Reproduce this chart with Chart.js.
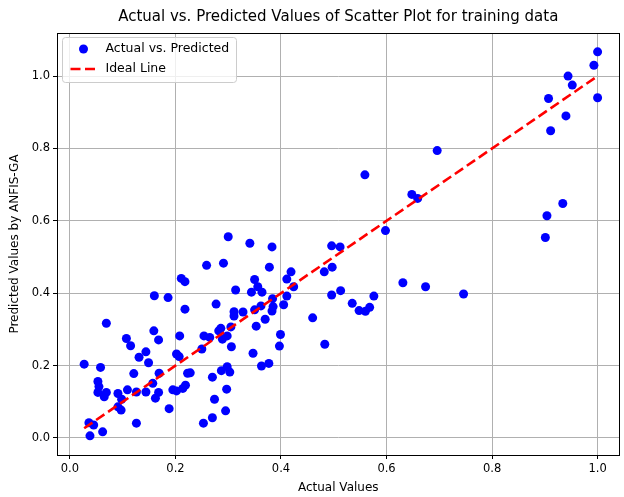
<!DOCTYPE html>
<html>
<head>
<meta charset="utf-8">
<script src="https://cdn.jsdelivr.net/npm/chart.js@4.4.0/dist/chart.umd.min.js"></script>
<style>
  html, body { margin: 0; padding: 0; background: #ffffff; }
  #wrap { width: 624px; height: 497px; }
</style>
</head>
<body>
<div id="wrap"><canvas id="c" width="624" height="497"></canvas></div>
<script>
// ---- data ----
const actualValues = [
  0.027,0.058,0.069,0.053,0.055,0.053,0.069,0.065,0.091,0.109,
  0.098,0.126,0.091,0.097,0.126,0.036,0.045,0.038,0.062,0.107,
  0.115,0.131,0.121,0.159,0.168,0.144,0.149,0.169,0.157,0.144,
  0.168,0.162,0.195,0.202,0.188,0.160,0.186,0.202,0.207,0.208,
  0.211,0.218,0.218,0.223,0.219,0.214,0.228,0.250,0.254,0.265,
  0.253,0.270,0.274,0.270,0.295,0.297,0.287,0.298,0.303,0.282,
  0.289,0.298,0.306,0.347,0.363,0.377,0.399,0.397,0.277,0.286,
  0.305,0.300,0.341,0.383,0.259,0.291,0.378,0.419,0.411,0.350,
  0.356,0.314,0.344,0.364,0.424,0.411,0.384,0.311,0.328,0.311,
  0.350,0.362,0.385,0.383,0.405,0.370,0.353,
  0.496,0.512,0.497,0.482,0.496,0.513,0.535,0.548,0.560,0.568,
  0.576,0.460,0.483,0.598,0.559,0.631,0.674,0.746,0.648,0.659,
  0.696,0.904,0.901,0.934,0.911,0.907,0.940,0.944,0.952,0.993,
  1.000,1.000
];
const predictedValues = [
  0.204,0.195,0.317,0.156,0.142,0.126,0.126,0.114,0.123,0.133,
  0.107,0.127,0.086,0.077,0.041,0.042,0.036,0.006,0.017,0.275,
  0.255,0.223,0.178,0.296,0.271,0.238,0.208,0.179,0.151,0.127,
  0.126,0.110,0.133,0.130,0.081,0.393,0.388,0.232,0.225,0.282,
  0.441,0.432,0.356,0.179,0.146,0.137,0.180,0.246,0.282,0.278,
  0.041,0.056,0.107,0.168,0.075,0.135,0.186,0.197,0.182,0.296,
  0.273,0.282,0.252,0.234,0.199,0.206,0.286,0.254,0.370,0.303,
  0.307,0.556,0.538,0.528,0.477,0.483,0.472,0.459,0.439,0.438,
  0.418,0.409,0.403,0.403,0.418,0.392,0.385,0.349,0.348,0.337,
  0.354,0.365,0.363,0.351,0.368,0.328,0.309,
  0.531,0.528,0.472,0.459,0.395,0.407,0.372,0.352,0.350,0.361,
  0.392,0.332,0.259,0.573,0.727,0.429,0.418,0.398,0.673,0.662,
  0.794,0.614,0.554,0.648,0.849,0.938,0.890,1.000,0.975,1.030,
  1.067,0.940
];
const xTicks = [0.0, 0.2, 0.4, 0.6, 0.8, 1.0];
const yTicks = [0.0, 0.2, 0.4, 0.6, 0.8, 1.0];
const seriesLabels = ['Actual vs. Predicted', 'Ideal Line'];
const titleText = 'Actual vs. Predicted Values of Scatter Plot for training data';
const xTitle = 'Actual Values';
const yTitle = 'Predicted Values by ANFIS-GA';

// ---- build structures for the library ----
const scatterPoints = actualValues.map((a, i) => ({ x: a, y: predictedValues[i] }));
const lo = Math.min(...actualValues), hi = Math.max(...actualValues);
const idealPoints = [{ x: lo, y: lo }, { x: hi, y: hi }];

const FONT = "'DejaVu Sans', 'Liberation Sans', sans-serif";

const framePlugin = {
  id: 'frame',
  afterDatasetsDraw(chart) {
    const { ctx, chartArea: a } = chart;
    ctx.save();
    ctx.strokeStyle = '#000';
    ctx.lineWidth = 1;
    ctx.strokeRect(Math.round(a.left) + 0.5, Math.round(a.top) + 0.5,
                   Math.round(a.right - a.left) - 1, Math.round(a.bottom - a.top));
    ctx.restore();
  }
};

const legendPlugin = {
  id: 'mplLegend',
  afterDraw(chart) {
    const { ctx, chartArea: a } = chart;
    const ds = chart.data.datasets;
    const x0 = a.left + 5.5, y0 = a.top + 4.5, w = 174, h = 45, r = 3;
    ctx.save();
    ctx.beginPath();
    ctx.moveTo(x0 + r, y0);
    ctx.lineTo(x0 + w - r, y0); ctx.quadraticCurveTo(x0 + w, y0, x0 + w, y0 + r);
    ctx.lineTo(x0 + w, y0 + h - r); ctx.quadraticCurveTo(x0 + w, y0 + h, x0 + w - r, y0 + h);
    ctx.lineTo(x0 + r, y0 + h); ctx.quadraticCurveTo(x0, y0 + h, x0, y0 + h - r);
    ctx.lineTo(x0, y0 + r); ctx.quadraticCurveTo(x0, y0, x0 + r, y0);
    ctx.closePath();
    ctx.fillStyle = 'rgba(255,255,255,0.8)';
    ctx.fill();
    ctx.strokeStyle = '#cccccc';
    ctx.lineWidth = 1;
    ctx.stroke();

    ctx.font = '12.5px ' + FONT;
    ctx.fillStyle = '#000';
    ctx.textBaseline = 'middle';
    ctx.textAlign = 'left';
    // entry 1: marker
    const e1y = y0 + 11.5;
    ctx.beginPath();
    ctx.arc(x0 + 21, e1y, 4.5, 0, Math.PI * 2);
    ctx.fillStyle = ds[0].backgroundColor;
    ctx.fill();
    ctx.fillStyle = '#000';
    ctx.fillText(ds[0].label, x0 + 43, e1y);
    // entry 2: dashed line
    const e2y = y0 + 31.5;
    ctx.beginPath();
    ctx.setLineDash([10, 4.5]);
    ctx.strokeStyle = ds[1].borderColor;
    ctx.lineWidth = 2.6;
    ctx.moveTo(x0 + 8, e2y);
    ctx.lineTo(x0 + 35, e2y);
    ctx.stroke();
    ctx.setLineDash([]);
    ctx.fillStyle = '#000';
    ctx.fillText(ds[1].label, x0 + 43, e2y);
    ctx.restore();
  }
};

new Chart(document.getElementById('c'), {
  type: 'scatter',
  data: {
    datasets: [
      {
        label: seriesLabels[0],
        data: scatterPoints,
        backgroundColor: '#0000ff',
        borderColor: '#0000ff',
        borderWidth: 0,
        pointRadius: 4.5,
        pointHoverRadius: 4.5,
        order: 2
      },
      {
        type: 'line',
        label: seriesLabels[1],
        data: idealPoints,
        borderColor: '#ff0000',
        backgroundColor: '#ff0000',
        borderWidth: 2.6,
        borderDash: [10, 4.5],
        pointRadius: 0,
        fill: false,
        order: 1
      }
    ]
  },
  options: {
    responsive: false,
    animation: false,
    devicePixelRatio: 1,
    layout: { padding: { left: 0, right: 1, top: 0, bottom: 0 } },
    plugins: {
      legend: { display: false },
      tooltip: { enabled: false },
      title: {
        display: true,
        text: titleText,
        fullSize: false,
        color: '#000',
        font: { family: FONT, size: 15, weight: 'normal' },
        padding: { top: 8, bottom: 7 }
      }
    },
    scales: {
      x: {
        type: 'linear',
        min: -0.0245,
        max: 1.0415,
        afterBuildTicks: (s) => { s.ticks = xTicks.map(v => ({ value: v })); },
        afterFit: (s) => { s.height = 42; },
        ticks: {
          color: '#000',
          font: { family: FONT, size: 11.5 },
          padding: 3,
          maxRotation: 0,
          callback: (v) => Number(v).toFixed(1)
        },
        grid: { color: '#b0b0b0', lineWidth: 1, drawTicks: true, tickLength: 4, tickColor: '#000', tickWidth: 1 },
        border: { display: false },
        title: {
          display: true, text: xTitle, color: '#000',
          font: { family: FONT, size: 12 },
          padding: { top: 0, bottom: 2 }
        }
      },
      y: {
        type: 'linear',
        min: -0.047,
        max: 1.119,
        afterBuildTicks: (s) => { s.ticks = yTicks.map(v => ({ value: v })); },
        afterFit: (s) => { s.width = 57; },
        ticks: {
          color: '#000',
          font: { family: FONT, size: 11.5 },
          padding: 3,
          callback: (v) => Number(v).toFixed(1)
        },
        grid: { color: '#b0b0b0', lineWidth: 1, drawTicks: true, tickLength: 4, tickColor: '#000', tickWidth: 1 },
        border: { display: false },
        title: {
          display: true, text: yTitle, color: '#000',
          font: { family: FONT, size: 12 },
          padding: { top: 8, bottom: 0 }
        }
      }
    }
  },
  plugins: [framePlugin, legendPlugin]
});
</script>
</body>
</html>
